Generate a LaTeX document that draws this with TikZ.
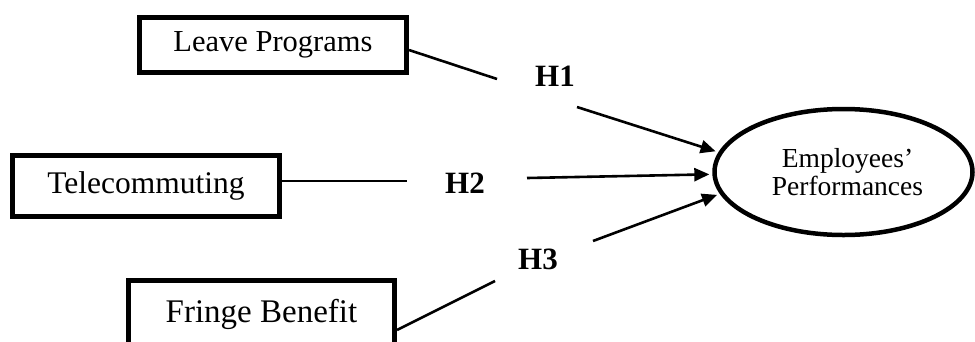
\documentclass[tikz,border=0pt]{standalone}
\usepackage{fontspec}
\setmainfont{Liberation Serif}
\usetikzlibrary{arrows.meta,shapes.geometric}

\begin{document}
\begin{tikzpicture}[x=1pt,y=-1pt,
  box/.style={draw,line width=5pt,minimum width=267pt,inner sep=0pt,fill=white},
  link/.style={line width=2.6pt},
  hyp/.style={font=\fontsize{31}{31}\selectfont\bfseries,inner sep=0pt},
  arr/.style={link,-{Triangle[length=15pt,width=13pt]},shorten >=3pt}]
\useasboundingbox (0,0) rectangle (975,341);
\clip (0,0) rectangle (975,341);

% independent variables
\node[box,minimum height=55pt,font=\fontsize{30.5}{31}\selectfont] (lp) at (273,45) {Leave Programs};
\node[box,minimum height=61pt,font=\fontsize{31.5}{32}\selectfont] (tc) at (146,186) {Telecommuting};
\node[box,minimum width=266pt,minimum height=67pt,font=\fontsize{33}{34}\selectfont] (fb) at (261.5,314) {Fringe Benefit};

% dependent variable
\node[draw,ellipse,line width=4.5pt,minimum width=258pt,minimum height=126pt,
      align=center,font=\fontsize{27.5}{28.5}\selectfont] (ep) at (843.5,172)
      {\hspace*{8pt}Employees'\\\hspace*{8pt}Performances};

% hypothesis labels
\node[hyp] (h1) at (555,76) {H1};
\node[hyp] (h2) at (465,183) {H2};
\node[hyp] (h3) at (538,259) {H3};

% break points on either side of each label
\coordinate (h1a) at (497,79);
\coordinate (h1b) at (577,107);
\coordinate (h2a) at (407,181);
\coordinate (h2b) at (527,178);
\coordinate (h3a) at (495,281);
\coordinate (h3b) at (593,241);

% paths
\draw[link] ([yshift=-5pt]lp.east) -- (h1a);
\draw[arr] (h1b) -- (ep.171);
\draw[link] ([yshift=5pt]tc.east) -- (h2a);
\draw[arr] (h2b) -- (ep.181);
\draw[link] ([yshift=-16pt]fb.east) -- (h3a);
\draw[arr] (h3b) -- (ep.190);
\end{tikzpicture}
\end{document}
